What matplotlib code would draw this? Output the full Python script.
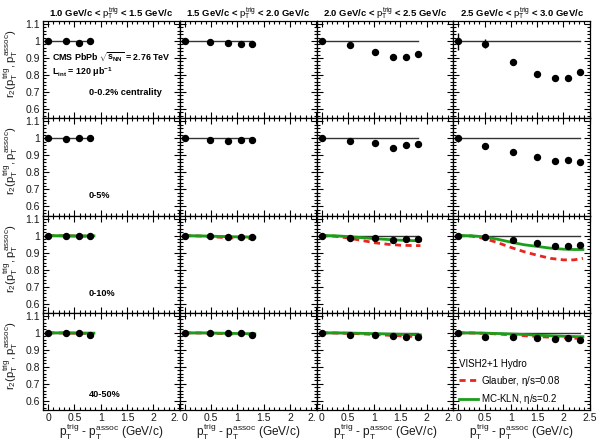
import numpy as np
import matplotlib
matplotlib.use("Agg")
import matplotlib.pyplot as plt
from matplotlib.ticker import MultipleLocator, FixedLocator, FixedFormatter

plt.rcParams['font.family'] = ['Liberation Sans', 'DejaVu Sans']
plt.rcParams['mathtext.fontset'] = 'custom'
plt.rcParams['mathtext.rm'] = 'Liberation Sans'
plt.rcParams['mathtext.it'] = 'Liberation Sans'
plt.rcParams['mathtext.bf'] = 'Liberation Sans:bold'

# pT^trig bins (columns) and centrality classes (rows)
trig_bins = ["1.0 GeV/c < $p_T^{trig}$ < 1.5 GeV/c",
             "1.5 GeV/c < $p_T^{trig}$ < 2.0 GeV/c",
             "2.0 GeV/c < $p_T^{trig}$ < 2.5 GeV/c",
             "2.5 GeV/c < $p_T^{trig}$ < 3.0 GeV/c"]
centralities = ["0-0.2% centrality", "0-5%", "0-10%", "40-50%"]

# pT^trig - pT^assoc of the data points, per column
x_pts = [[0.0, 0.34, 0.58, 0.80],
         [0.0, 0.48, 0.81, 1.06, 1.28],
         [0.0, 0.54, 1.01, 1.36, 1.61, 1.83],
         [0.0, 0.50, 1.03, 1.50, 1.84, 2.09, 2.31]]

# r2 values, per row, per column
r2_0_02 = [[1.0, 1.0, 0.99, 1.002],
           [1.0, 0.992, 0.986, 0.980, 0.984],
           [1.0, 0.975, 0.933, 0.908, 0.908, 0.925],
           [1.0, 0.984, 0.876, 0.804, 0.780, 0.784, 0.818]]
r2_0_5 = [[1.0, 0.996, 1.0, 1.002],
          [1.0, 0.990, 0.984, 0.990, 0.990],
          [1.0, 0.986, 0.973, 0.945, 0.959, 0.967],
          [1.0, 0.957, 0.920, 0.892, 0.869, 0.871, 0.861]]
r2_0_10 = [[1.0, 0.998, 0.998, 1.0],
           [1.0, 0.996, 0.992, 0.992, 0.994],
           [1.0, 0.988, 0.984, 0.973, 0.978, 0.982],
           [1.0, 0.994, 0.972, 0.955, 0.939, 0.941, 0.945]]
r2_40_50 = [[1.0, 1.0, 1.0, 0.990],
            [1.0, 1.0, 0.996, 0.996, 0.986],
            [1.0, 0.988, 0.988, 0.982, 0.978, 0.978],
            [1.0, 0.978, 0.974, 0.968, 0.965, 0.968, 0.959]]

# visible statistical errors
err_0_02 = [[0, 0, 0, 0],
            [0, 0, 0, 0, 0],
            [0.015, 0, 0, 0, 0, 0],
            [0.05, 0.026, 0.018, 0.012, 0.012, 0.012, 0.015]]
err_0_5 = [[0, 0, 0, 0],
           [0, 0, 0, 0, 0],
           [0, 0, 0, 0, 0, 0],
           [0.02, 0.008, 0.006, 0.006, 0.006, 0.006, 0.006]]
err_zero = [[0] * len(x) for x in x_pts]

# VISH2+1 hydro curves (0-10% and 40-50%)
hydro_x = [[0.0, 0.3, 0.6, 0.87],
           [0.0, 0.33, 0.67, 1.0, 1.33],
           [0.0, 0.25, 0.5, 0.75, 1.0, 1.25, 1.5, 1.75, 1.88],
           [0.0, 0.25, 0.5, 0.75, 1.0, 1.25, 1.5, 1.75, 2.0, 2.2, 2.37]]
glauber_0_10 = [[1.0, 0.999, 0.997, 0.996],
                [1.0, 0.997, 0.990, 0.985, 0.982],
                [1.0, 0.996, 0.986, 0.972, 0.958, 0.949, 0.943, 0.941, 0.941],
                [1.0, 0.997, 0.982, 0.958, 0.930, 0.905, 0.884, 0.866, 0.857, 0.857, 0.866]]
mckln_0_10 = [[1.0, 0.999, 0.998, 0.998],
              [1.0, 0.998, 0.995, 0.992, 0.990],
              [1.0, 0.999, 0.994, 0.988, 0.982, 0.977, 0.973, 0.970, 0.970],
              [1.0, 0.999, 0.992, 0.978, 0.961, 0.946, 0.936, 0.926, 0.920, 0.918, 0.918]]
glauber_40_50 = [[1.0, 0.999, 0.997, 0.995],
                 [1.0, 0.999, 0.996, 0.993, 0.990],
                 [1.0, 0.999, 0.997, 0.994, 0.990, 0.986, 0.982, 0.978, 0.976],
                 [1.0, 0.999, 0.997, 0.993, 0.988, 0.983, 0.978, 0.974, 0.970, 0.968, 0.966]]
mckln_40_50 = [[1.0, 1.0, 0.999, 0.998],
               [1.0, 1.0, 0.998, 0.996, 0.994],
               [1.0, 1.0, 0.999, 0.997, 0.995, 0.993, 0.991, 0.989, 0.988],
               [1.0, 1.0, 0.998, 0.996, 0.993, 0.990, 0.986, 0.983, 0.980, 0.978, 0.977]]

rows_r2 = [r2_0_02, r2_0_5, r2_0_10, r2_40_50]
rows_err = [err_0_02, err_0_5, err_zero, err_zero]
rows_glauber = [None, None, glauber_0_10, glauber_40_50]
rows_mckln = [None, None, mckln_0_10, mckln_40_50]
label_y = [0.26, 0.21, 0.20, 0.155]

red = '#e8261f'
green = '#1c9e1c'
txt = '#1a1a1a'

fig, axes = plt.subplots(4, 4, figsize=(5.97, 4.42), dpi=100)
fig.subplots_adjust(left=43/597, right=590/597, top=1-21/442, bottom=1-410/442,
                    wspace=0, hspace=0)

for i in range(4):
    for j in range(4):
        ax = axes[i, j]
        x = x_pts[j]
        ax.plot([-0.1, x[-1]], [1, 1], color='#333333', lw=1, zorder=1)
        if rows_glauber[i] is not None:
            ax.plot(hydro_x[j], rows_glauber[i][j], color=red, lw=2, ls=(0, (2.2, 1.6)), zorder=2)
            ax.plot(hydro_x[j], rows_mckln[i][j], color=green, lw=2, zorder=3)
        ax.errorbar(x, rows_r2[i][j], yerr=rows_err[i][j], fmt='o', color='black',
                    ms=4.3, elinewidth=1, capsize=0, zorder=4)

        ax.set_xlim(-0.1, 2.505)
        ax.set_ylim(0.546, 1.118)
        ax.xaxis.set_major_locator(FixedLocator([0, 0.5, 1, 1.5, 2, 2.5]))
        ax.xaxis.set_minor_locator(MultipleLocator(0.1))
        ax.yaxis.set_major_locator(FixedLocator([0.6, 0.7, 0.8, 0.9, 1.0, 1.1]))
        ax.yaxis.set_minor_locator(MultipleLocator(0.02))
        ax.tick_params(which='both', direction='in', top=True, right=True,
                       labelsize=7.5, labelcolor=txt, width=0.8, pad=2)
        ax.tick_params(which='major', length=4)
        ax.tick_params(which='minor', length=2)
        for s in ax.spines.values():
            s.set_linewidth(0.9)

        if i == 0:
            ax.set_title(trig_bins[j], fontsize=6.8, fontweight='bold', pad=3)
        if j == 0:
            ax.yaxis.set_major_formatter(FixedFormatter(['0.6', '0.7', '0.8', '0.9', '1', '1.1']))
            ax.set_ylabel(r'$r_2(p_T^{trig}, p_T^{assoc})$', fontsize=8.2, color=txt)
            ax.yaxis.set_label_coords(-0.17, 0.56)
            ax.text(0.336, label_y[i], centralities[i], transform=ax.transAxes,
                    fontsize=6.6, fontweight='bold', va='center', ha='left')
        else:
            ax.tick_params(labelleft=False)
        if i == 3:
            last = '2.5' if j == 3 else '2.'
            ax.xaxis.set_major_formatter(FixedFormatter(['0', '0.5', '1', '1.5', '2', last]))
            if j < 3:
                fig.canvas.draw()
                ax.get_xticklabels()[-1].set_ha('right')
            ax.set_xlabel(r'$p_T^{trig}$ - $p_T^{assoc}$ (GeV/c)', fontsize=8.6, color=txt,
                          labelpad=-0.5)
        else:
            ax.tick_params(labelbottom=False)

ax = axes[0, 0]
ax.text(0.066, 0.63, r'CMS PbPb $\mathbf{\sqrt{s_{NN}}}$ = 2.76 TeV', transform=ax.transAxes,
        fontsize=6.4, fontweight='bold', va='center')
ax.text(0.066, 0.475, r'L$_{\mathbf{int}}$ = 120 $\mathbf{\mu}$b$^{\mathbf{-1}}$',
        transform=ax.transAxes, fontsize=6.4, fontweight='bold', va='center')

ax = axes[3, 3]
h1, = ax.plot([], [], color=red, lw=2, ls=(0, (2.2, 1.6)))
h2, = ax.plot([], [], color=green, lw=2)
leg = ax.legend([h1, h2], [r'Glauber, $\eta$/s=0.08', r'MC-KLN, $\eta$/s=0.2'],
                loc='upper left', bbox_to_anchor=(0.0, 0.58), frameon=False,
                title='VISH2+1 Hydro', fontsize=7, title_fontsize=7,
                handlelength=1.9, handletextpad=0.4, labelspacing=0.45,
                borderaxespad=0.2)
leg._legend_box.align = 'left'

fig.savefig('out.png', dpi=100)
